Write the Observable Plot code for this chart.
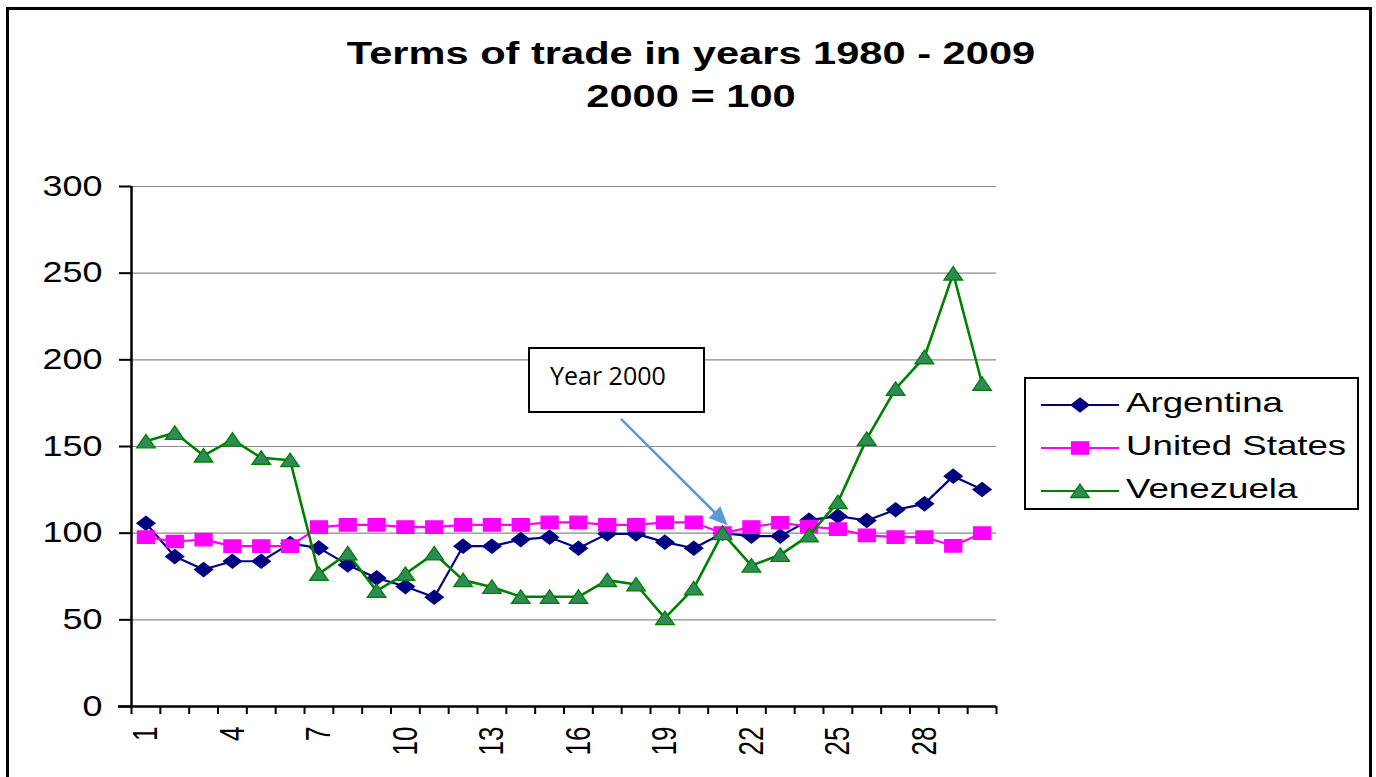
<!DOCTYPE html>
<html>
<head>
<meta charset="utf-8">
<script src="https://cdn.jsdelivr.net/npm/d3@7"></script>
<script src="https://cdn.jsdelivr.net/npm/@observablehq/plot@0.6"></script>
<style>
  body { margin: 0; background: #fff; }
  #wrap { position: relative; width: 1376px; height: 777px; overflow: hidden; background: #fff;
          font-family: "Liberation Sans", Arial, sans-serif; color: #000; }
  #frame { position: absolute; left: 6px; top: 7px; width: 1366px; height: 840px;
           border: 3px solid #000; box-sizing: border-box; pointer-events: none; }
  .title { position: absolute; left: 0; width: 1382px; text-align: center; font-weight: bold;
           font-size: 32px; line-height: 43px; transform: scaleX(1.3); transform-origin: 691px 0; white-space: nowrap; }
  #chart { position: absolute; left: 0; top: 0; }
  #legend { position: absolute; left: 1024px; top: 377px; width: 335px; height: 133px;
            border: 2px solid #000; box-sizing: border-box; background: #fff; }
  .lg-sw { position: absolute; left: 14px; width: 80px; height: 24px; }
  .lg-tx { position: absolute; left: 100px; font-size: 28px; line-height: 28px; white-space: nowrap;
           transform: scaleX(1.31); transform-origin: 0 0; }
  #note { position: absolute; left: 528px; top: 347px; width: 177px; height: 66px; background: #fff;
          border: 2px solid #000; box-sizing: border-box; }
  #note span { position: absolute; left: 20px; top: 11px; font-family: "Open Sans", sans-serif;
               font-size: 25px; line-height: 30px; white-space: nowrap; }
</style>
</head>
<body>
<div id="wrap">
  <div id="chart"></div>
  <div class="title" id="t1" style="top:32px">Terms of trade in years 1980 - 2009</div>
  <div class="title" id="t2" style="top:75px">2000 = 100</div>
  <div id="note"><span>Year 2000</span></div>
  <div id="legend"></div>
  <div id="frame"></div>
</div>
<script>
// ---- data ----
const categories = [1,2,3,4,5,6,7,8,9,10,11,12,13,14,15,16,17,18,19,20,21,22,23,24,25,26,27,28,29,30];
const xTickLabels = [1,4,7,10,13,16,19,22,25,28];
const yTickValues = [0,50,100,150,200,250,300];
const seriesNames = ["Argentina", "United States", "Venezuela"];
const argentina = [105.7,86.5,79.0,83.8,83.8,94.0,91.5,81.7,74.2,69.2,63.0,92.5,92.5,96.3,97.7,91.3,99.6,99.6,94.8,91.3,100.0,98.3,98.3,107.5,109.8,107.3,113.5,116.9,132.9,125.2];
const unitedStates = [97.7,95.2,96.3,92.5,92.5,92.5,103.5,104.8,104.8,103.5,103.5,104.8,104.8,104.8,106.2,106.2,104.8,104.8,106.2,106.2,100.0,103.5,106.0,103.8,102.3,98.7,97.7,97.7,92.7,100.0];
const venezuela = [153.0,157.9,144.8,154.0,143.5,142.1,76.5,88.3,66.7,76.5,88.3,72.9,69.0,63.3,63.3,63.3,72.9,70.4,51.0,68.1,100.0,81.3,87.5,98.7,117.9,154.4,183.3,201.5,249.8,186.2];
const noteLabel = "Year 2000";
const noteArrow = [{x1: 17.5, y1: 165.5, x2: 21.15, y2: 105}];

// ---- styles ----
const colors = {"Argentina": "#000080", "United States": "#ff00ff", "Venezuela": "#008000"};
const symDiamond = {draw(c){ c.moveTo(0,-7); c.lineTo(9,0); c.lineTo(0,7); c.lineTo(-9,0); c.closePath(); }};
const symSquare  = {draw(c){ c.moveTo(-8.5,-6.2); c.lineTo(8.5,-6.2); c.lineTo(8.5,6.2); c.lineTo(-8.5,6.2); c.closePath(); }};
const symTriangle= {draw(c){ c.moveTo(0,-7); c.lineTo(9.3,6.5); c.lineTo(-9.3,6.5); c.closePath(); }};
const symArrowHead = {draw(c){ c.moveTo(0,0); c.lineTo(7.5,17); c.lineTo(-7.5,17); c.closePath(); }};

const seriesValues = {"Argentina": argentina, "United States": unitedStates, "Venezuela": venezuela};
const rows = seriesNames.flatMap(name => categories.map((c, i) => ({year: c, value: seriesValues[name][i], country: name})));
const xBounds = categories.map(c => c - 0.5).concat([categories[categories.length - 1] + 0.5]);

const seriesMarks = seriesNames.flatMap(name => {
  const d = rows.filter(r => r.country === name);
  const sym = name === "Argentina" ? symDiamond : name === "United States" ? symSquare : symTriangle;
  const fill = name === "Venezuela" ? "#2e8b57" : colors[name];
  return [
    Plot.line(d, {x: "year", y: "value", stroke: colors[name], strokeWidth: name === "Venezuela" ? 2.6 : 2.2}),
    Plot.dot(d, {x: "year", y: "value", symbol: sym, fill: fill, stroke: colors[name], strokeWidth: 1.3})
  ];
});

const plot = Plot.plot({
  width: 1376, height: 777,
  marginLeft: 131, marginRight: 380, marginTop: 186, marginBottom: 71,
  style: {fontFamily: "'Liberation Sans', Arial, sans-serif", color: "#000", background: "transparent"},
  x: {type: "linear", domain: [xBounds[0], xBounds[xBounds.length - 1]], axis: null, label: null},
  y: {domain: [yTickValues[0], yTickValues[yTickValues.length - 1]], axis: null, label: null},
  marks: [
    Plot.gridY(yTickValues.slice(1), {stroke: "#8a8a8a", strokeOpacity: 1, strokeWidth: 1.2}),
    Plot.axisY({ticks: yTickValues, tickSize: 12, tickPadding: 17, fontSize: 29, stroke: "#000", strokeWidth: 2, fill: "#000", label: null}),
    Plot.axisX({ticks: xBounds, tickSize: 8, tickFormat: () => "", stroke: "#000", strokeWidth: 2, label: null}),
    Plot.axisX({ticks: xTickLabels, tickSize: 0, tickPadding: 20, tickRotate: -90, fontSize: 26, fill: "#000", label: null}),
    Plot.ruleX([xBounds[0]], {stroke: "#000", strokeWidth: 2.5}),
    Plot.ruleY([yTickValues[0]], {stroke: "#000", strokeWidth: 2.5, x1: xBounds[0], x2: xBounds[xBounds.length - 1], insetLeft: -13}),
    ...seriesMarks,
    Plot.arrow(noteArrow, {x1: "x1", y1: "y1", x2: "x2", y2: "y2", stroke: "#5b9bd5", strokeWidth: 2.6, headLength: 0, insetEnd: 12}),
    Plot.dot(noteArrow, {x: "x2", y: "y2", symbol: symArrowHead, rotate: 135, fill: "#5b9bd5", stroke: "#5b9bd5", strokeWidth: 1})
  ]
});
document.getElementById("chart").appendChild(plot);

// horizontally stretched glyphs, like the reference picture
function stretch(label, sx, sy) {
  plot.querySelectorAll(`g[aria-label="${label}"] text`).forEach(t => {
    const tr = t.getAttribute("transform");
    if (tr) t.setAttribute("transform", tr + ` scale(${sx},${sy})`);
    else {
      const x = t.getAttribute("x") || 0, y = t.getAttribute("y") || 0;
      t.setAttribute("x", 0); t.setAttribute("y", 0);
      t.setAttribute("transform", `translate(${x},${y}) scale(${sx},${sy})`);
    }
  });
}
stretch("y-axis tick label", 1.24, 1);
// the x labels are rotated: local y maps to screen x
plot.querySelectorAll('g[aria-label="x-axis tick label"]').forEach(g => {
  g.querySelectorAll("text").forEach(t => {
    if (!t.textContent) return;
    const tr = t.getAttribute("transform") || "";
    t.setAttribute("transform", tr + " scale(1,1.35)");
  });
});

// legend
const legend = document.getElementById("legend");
const symPaths = {
  "Argentina": "M40,5L49,12L40,19L31,12Z",
  "United States": "M31.5,5.8L48.5,5.8L48.5,18.2L31.5,18.2Z",
  "Venezuela": "M40,5L49.3,18.5L30.7,18.5Z"
};
const rowCenters = [26, 69, 112];
seriesNames.forEach((name, i) => {
  const sw = document.createElementNS("http://www.w3.org/2000/svg", "svg");
  sw.setAttribute("class", "lg-sw");
  sw.setAttribute("viewBox", "0 0 80 24");
  sw.style.top = (rowCenters[i] - 12) + "px";
  const fill = name === "Venezuela" ? "#2e8b57" : colors[name];
  sw.innerHTML = `<line x1="1" x2="79" y1="12" y2="12" stroke="${colors[name]}" stroke-width="2.2"/>` +
                 `<path d="${symPaths[name]}" fill="${fill}" stroke="${colors[name]}" stroke-width="1.3"/>`;
  legend.appendChild(sw);
  const tx = document.createElement("div");
  tx.className = "lg-tx";
  tx.textContent = name;
  tx.style.top = (rowCenters[i] + 10 - 25.7) + "px";
  legend.appendChild(tx);
});
</script>
</body>
</html>
